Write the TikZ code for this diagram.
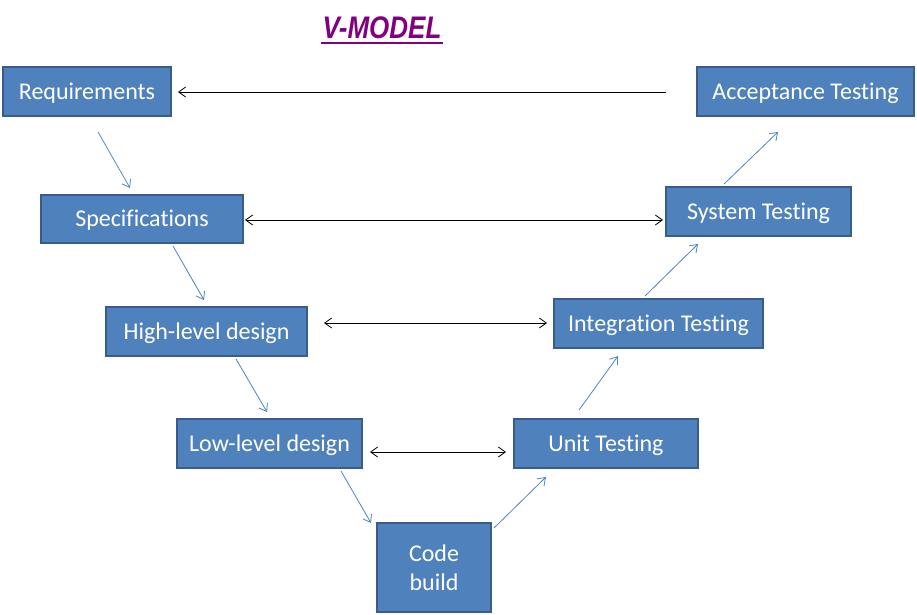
\documentclass[tikz,border=0pt]{standalone}
\usepackage{fontspec}
\setmainfont{Carlito}[Ligatures=NoCommon]
\newfontfamily\titlefont{Liberation Sans}
\usetikzlibrary{arrows.meta}
\definecolor{boxfill}{HTML}{4F81BD}
\definecolor{boxline}{HTML}{385D8A}
\definecolor{titlecol}{HTML}{800080}
\tikzset{
  vbox/.style={draw=boxline, line width=2pt, fill=boxfill, text=white, inner sep=0pt, align=center, font=\fontsize{24}{29}\selectfont},
  onebox/.style={vbox, text height=16pt, text depth=1pt},
  flow/.style={draw=boxfill, line width=0.8pt, -{Straight Barb[length=7pt,width=10pt]}},
  link/.style={draw=black, line width=0.8pt, -{Straight Barb[length=7pt,width=10pt]}},
  blink/.style={draw=black, line width=0.8pt, {Straight Barb[length=7pt,width=10pt]}-{Straight Barb[length=7pt,width=10pt]}}
}
\begin{document}
\begin{tikzpicture}[x=1pt,y=-1pt]
\useasboundingbox (0,0) rectangle (917,614);
\node[font=\titlefont\bfseries\itshape\fontsize{26}{30}\selectfont, text=titlecol, yscale=1.2, inner sep=0pt, anchor=base] (title) at (382,38) {V-MODEL};
\draw[titlecol, line width=2.5pt] (321,43) -- (443,43);
\node[onebox, minimum width=168pt, minimum height=49pt] (req) at (87,91.5) {Requirements};
\node[onebox, minimum width=217pt, minimum height=49pt] (acc) at (805.5,91.5) {Acceptance Testing};
\node[onebox, minimum width=202pt, minimum height=48pt] (spec) at (142,219) {Specifications};
\node[onebox, minimum width=185pt, minimum height=49pt] (sys) at (758.5,211.5) {System Testing};
\node[onebox, minimum width=201pt, minimum height=49pt] (hld) at (206.5,331.5) {High-level design};
\node[onebox, minimum width=209pt, minimum height=49pt] (int) at (658.5,323.5) {Integration Testing};
\node[onebox, minimum width=185pt, minimum height=49pt] (lld) at (269.5,443.5) {Low-level design};
\node[onebox, minimum width=184pt, minimum height=49pt] (unit) at (606,443.5) {Unit Testing};
\node[vbox, minimum width=114pt, minimum height=89pt] (code) at (434,567.5) {Code\\build};
\coordinate (accL) at (666,92);
\coordinate (reqR) at (178,92);
\draw[link] (accL) -- (reqR);
\draw[blink] ([xshift=1pt]spec.east |- 0,220) -- ([xshift=-2pt]sys.west |- 0,220);
\draw[blink] ([xshift=16pt]hld.east |- 0,323) -- ([xshift=-6pt]int.west |- 0,323);
\draw[blink] ([xshift=7pt]lld.east |- 0,452) -- ([xshift=-7pt]unit.west |- 0,452);
\draw[flow] ([shift={(11,15)}]req.south) -- ([shift={(43,71)}]req.south);
\draw[flow] ([shift={(31,2)}]spec.south) -- ([shift={(62,56)}]spec.south);
\draw[flow] ([shift={(29.5,2)}]hld.south) -- ([shift={(60.5,55)}]hld.south);
\draw[flow] ([shift={(71.5,2)}]lld.south) -- ([shift={(101.5,54)}]lld.south);
\draw[flow] ([shift={(2,-39.5)}]code.east) -- ([shift={(-60,8)}]unit.south);
\draw[flow] ([shift={(-27,-8)}]unit.north) -- ([shift={(-40.5,7)}]int.south);
\draw[flow] ([shift={(-13.5,-2)}]int.north) -- ([shift={(-60.5,7)}]sys.south);
\draw[flow] ([shift={(-34.5,-2)}]sys.north) -- ([shift={(-27.5,15)}]acc.south);
\end{tikzpicture}
\end{document}
